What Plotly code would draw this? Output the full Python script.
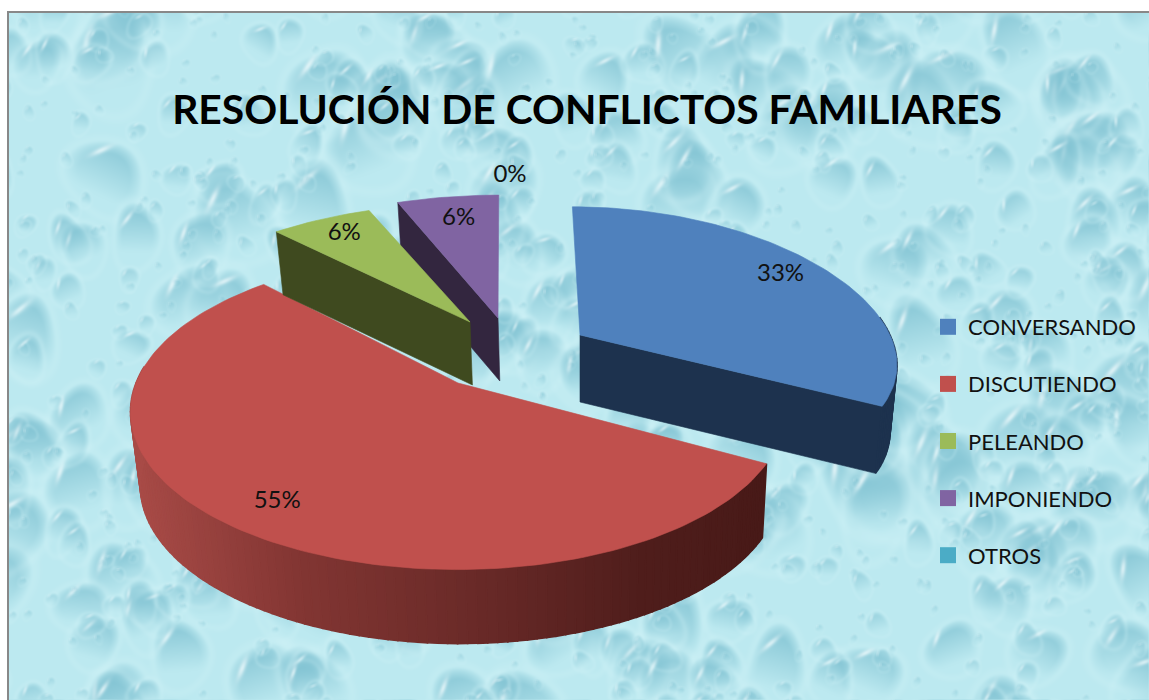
import base64, math, struct, zlib
import numpy as np
import plotly.graph_objects as go

# ---- data ----
categories = ["CONVERSANDO", "DISCUTIENDO", "PELEANDO", "IMPONIENDO", "OTROS"]
percent_values = [33, 55, 6, 6, 0]
percent_labels = ["33%", "55%", "6%", "6%", "0%"]
title_text = "RESOLUCIÓN DE CONFLICTOS FAMILIARES"

# ---- style ----
top_colors = ["#4f81bd", "#c0504d", "#9bbb59", "#8064a2", "#4bacc6"]
wall_colors = ["#1d324e", "#7a2e2b", "#3f4a1f", "#33263f", "#2a6070"]
# apex of each exploded slice on the page, radii, depth, and horizontal lean
apex_xy = [(580, 335), (458, 383), (470, 322), (498, 318), (498, 318)]
radii_x = [310, 322, 320, 320, 320]
radii_y = [141, 153, 140, 145, 145]
persp_y = [0.10, 0.18, 0.18, 0.18, 0.18]
depths = [67, 74, 63, 63, 63]
lean = [50, -5, 0, -5, 0]
label_frac = [0.84, 0.80, 0.84, 0.80, 1.14]
label_shift = [(-4, -2), (-2, 10), (2, 0), (2, 1), (12, -5)]
PERSP = 0.18
VANISH_X, BASE_SHRINK = 580.0, 0.978
W, H = 1149, 700


def texture_hash(i, salt):
    v = math.sin(i * 12.9898 + salt * 78.233) * 43758.5453
    return v - math.floor(v)


def make_background():
    base = np.array([188, 233, 240], dtype=float)
    img = np.ones((H, W, 3)) * base
    yy, xx = np.mgrid[0:H, 0:W]
    dark = np.array([128, 194, 210], dtype=float)
    drops = []
    for i in range(1, 1150):
        drops.append((4 + 36 * texture_hash(i, 1) ** 4.0, i))
    drops.sort(reverse=True)
    for r, i in drops:
        cx = texture_hash(i, 2) * (W + 40) - 20
        cy = texture_hash(i, 3) * (H + 40) - 20
        ry = r * (1.0 + 0.35 * texture_hash(i, 4))
        rot = (texture_hash(i, 5) - 0.5) * 1.2
        phase = texture_hash(i, 6) * 6.28
        pad = int(max(r, ry) * 1.3) + 3
        x0, x1 = max(int(cx) - pad, 0), min(int(cx) + pad, W)
        y0, y1 = max(int(cy) - pad, 0), min(int(cy) + pad, H)
        if x1 <= x0 or y1 <= y0:
            continue
        dx = xx[y0:y1, x0:x1] - cx
        dy = yy[y0:y1, x0:x1] - cy
        a = (dx * math.cos(rot) + dy * math.sin(rot)) / r
        b = (-dx * math.sin(rot) + dy * math.cos(rot)) / ry
        ang = np.arctan2(b, a)
        d = np.sqrt(a * a + b * b) * (1 + 0.10 * np.sin(2 * ang + phase) + 0.06 * np.sin(3 * ang - phase))
        shade = np.clip(0.9 - 0.6 * (b + 1), 0, 1) * np.clip((1 - d) * 3, 0, 1)
        shade *= 0.45 + 0.55 * min(r / 22, 1)
        sub = img[y0:y1, x0:x1]
        rim = np.exp(-((d - 1.05) / 0.14) ** 2) * 0.22
        sub += (np.array([212, 244, 248.0]) - sub) * rim[..., None]
        sub += (dark - sub) * shade[..., None]
        hl_a = (a + 0.40) * 0.75 + (b + 0.58) * 0.66
        hl_b = -(a + 0.40) * 0.66 + (b + 0.58) * 0.75
        hl = np.exp(-((hl_a / 0.07) ** 2 + (hl_b / 0.30) ** 2)) * 0.8 * (d < 1)
        sub += (np.array([240, 251, 253.0]) - sub) * hl[..., None]
    # soften, like the scaled bitmap of the reference
    soft = img.copy()
    for axis in (0, 1):
        soft = (np.roll(soft, 1, axis) + soft + np.roll(soft, -1, axis)) / 3
    img = soft
    img[:13, :] = 255
    img[:, :8] = 255
    img[11:13, 7:] = (136, 136, 136)
    img[11:, 7:9] = (136, 136, 136)
    arr = np.clip(img, 0, 255).astype(np.uint8)
    raw = b"".join(b"\x00" + arr[r].tobytes() for r in range(H))

    def chunk(tag, data):
        return struct.pack(">I", len(data)) + tag + data + struct.pack(">I", zlib.crc32(tag + data))

    png = b"\x89PNG\r\n\x1a\n" + chunk(b"IHDR", struct.pack(">IIBBBBB", W, H, 8, 2, 0, 0, 0)) \
        + chunk(b"IDAT", zlib.compress(raw, 6)) + chunk(b"IEND", b"")
    return "data:image/png;base64," + base64.b64encode(png).decode()


def project(idx, theta_deg, frac=1.0, base=False):
    """Page position of a point on slice idx at clockwise angle theta from 12 o'clock."""
    t = math.radians(theta_deg)
    X, Y = math.sin(t) * frac, -math.cos(t) * frac
    s = 1 / (1 - PERSP * Y)
    sy = 1 / (1 - persp_y[idx] * Y)
    ax, ay = apex_xy[idx]
    px = ax + X * radii_x[idx] * s + lean[idx] * (s - 1)
    py = ay + Y * radii_y[idx] * sy
    if base:
        py += depths[idx]
        px = VANISH_X + (px - VANISH_X) * BASE_SHRINK
    return px, py


def arc(a0, a1):
    n = max(int(abs(a1 - a0) / 1.5), 1)
    return [a0 + (a1 - a0) * k / n for k in range(n + 1)]


def red_shade(x):
    stops = [(135, (168, 75, 71)), (300, (130, 54, 51)), (480, (105, 42, 40)), (640, (80, 30, 28)), (770, (72, 26, 24))]
    for (x0, c0), (x1, c1) in zip(stops, stops[1:]):
        if x <= x1:
            f = max((x - x0) / (x1 - x0), 0)
            return "rgb(%d,%d,%d)" % tuple(c0[j] + (c1[j] - c0[j]) * f for j in range(3))
    return "rgb(72,26,24)"


def poly(fig, pts, color, lw=0.6):
    xs = [p[0] for p in pts] + [pts[0][0]]
    ys = [p[1] for p in pts] + [pts[0][1]]
    fig.add_trace(go.Scatter(x=xs, y=ys, mode="lines", fill="toself", fillcolor=color,
                             line=dict(color=color, width=lw), hoverinfo="skip", showlegend=False))


total = sum(percent_values)
starts, acc = [], 0.0
for v in percent_values:
    starts.append(acc)
    acc += v / total * 360.0
ends = [s + v / total * 360.0 for s, v in zip(starts, percent_values)]

fig = go.Figure()

# painter's order: back slices first
for i in [3, 1, 2, 0]:
    a0, a1 = starts[i], ends[i]
    ax, ay = apex_xy[i]
    apex_top = (ax, ay)
    apex_bot = (VANISH_X + (ax - VANISH_X) * BASE_SHRINK, ay + depths[i])
    # radial faces that look towards the viewer
    if math.sin(math.radians(a0)) < -1e-6:
        poly(fig, [apex_top, project(i, a0), project(i, a0, base=True), apex_bot], wall_colors[i])
    if math.sin(math.radians(a1)) > 1e-6:
        poly(fig, [apex_top, project(i, a1), project(i, a1, base=True), apex_bot], wall_colors[i])
    # outer rim, front half only
    angs = arc(a0, a1)
    for p, q in zip(angs, angs[1:]):
        mid = (p + q) / 2
        if -math.cos(math.radians(mid)) < -0.12:
            continue
        pts = [project(i, p), project(i, q), project(i, q, base=True), project(i, p, base=True)]
        col = red_shade((pts[0][0] + pts[1][0]) / 2) if i == 1 else wall_colors[i]
        poly(fig, pts, col, lw=1.6)
    # top face
    top = [apex_top] + [project(i, a) for a in angs]
    poly(fig, top, top_colors[i])

# data labels
lab_x, lab_y = [], []
for i in range(len(categories)):
    px, py = project(i, (starts[i] + ends[i]) / 2, frac=label_frac[i])
    lab_x.append(px + label_shift[i][0])
    lab_y.append(py + label_shift[i][1])
fig.add_trace(go.Scatter(x=lab_x, y=lab_y, mode="text", text=percent_labels, textposition="middle center",
                         textfont=dict(family="Lato, Carlito, sans-serif", size=24, color="#111111"),
                         hoverinfo="skip", showlegend=False))

# legend entries
for name, c in zip(categories, top_colors):
    fig.add_trace(go.Scatter(x=[None], y=[None], mode="markers", name=name, legendgroup=name,
                             marker=dict(symbol="square", size=16, color=c)))

fig.update_layout(
    width=W, height=H, margin=dict(l=0, r=0, t=0, b=0),
    paper_bgcolor="#bae9f0", plot_bgcolor="rgba(0,0,0,0)",
    xaxis=dict(range=[0, W], visible=False, fixedrange=True),
    yaxis=dict(range=[H, 0], visible=False, fixedrange=True),
    images=[dict(source=make_background(), xref="paper", yref="paper", x=0, y=1, sizex=1, sizey=1,
                 xanchor="left", yanchor="top", sizing="stretch", layer="below")],
    title=dict(text="<b>" + title_text + "</b>", x=587 / W, xanchor="center", y=1 - 110 / H, yanchor="middle",
               font=dict(family="Lato, Carlito, sans-serif", size=40.8, color="#000000")),
    legend=dict(x=928 / W, xanchor="left", y=1 - 306 / H, yanchor="top", bgcolor="rgba(0,0,0,0)",
                tracegroupgap=25.5, itemclick=False, itemdoubleclick=False,
                font=dict(family="Lato, Carlito, sans-serif", size=22, color="#111111")),
)

fig.write_html("out.html", config={"displayModeBar": False},
               post_script="document.body.style.margin='0';document.body.style.overflow='hidden';")
